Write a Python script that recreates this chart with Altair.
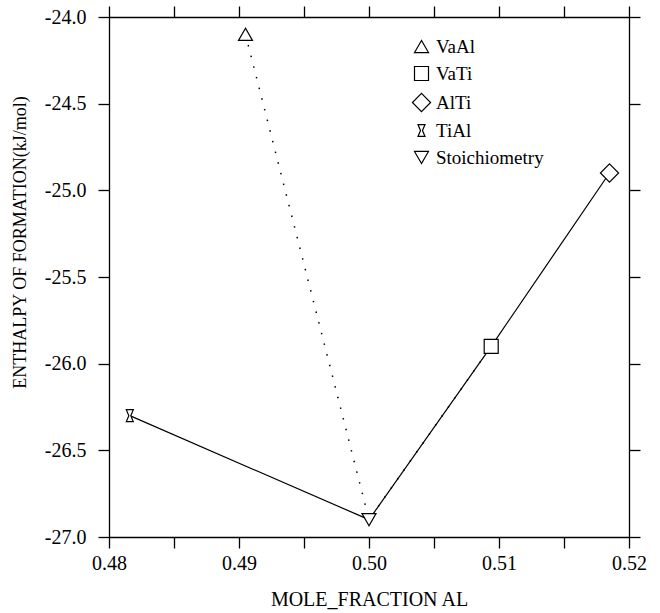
import altair as alt
import pandas as pd

# ---- data ----
names = ["VaAl", "VaTi", "AlTi", "TiAl", "Stoichiometry"]
mole_fraction = [0.4905, 0.5094, 0.5185, 0.4816, 0.5000]
enthalpy = [-24.1, -25.9, -24.9, -26.3, -26.9]

solid_path = ["TiAl", "Stoichiometry", "VaTi", "AlTi"]
dotted_path = ["VaAl", "Stoichiometry", "VaTi"]

x_ticks = [0.48, 0.485, 0.49, 0.495, 0.50, 0.505, 0.51, 0.515, 0.52]
y_ticks = [-27.0, -26.5, -26.0, -25.5, -25.0, -24.5, -24.0]

# ---- tables ----
pts = pd.DataFrame({"name": names, "x": mole_fraction, "y": enthalpy})
lookup = {n: (xv, yv) for n, xv, yv in zip(names, mole_fraction, enthalpy)}
solid = pd.DataFrame({"order": list(range(len(solid_path))),
                      "x": [lookup[n][0] for n in solid_path],
                      "y": [lookup[n][1] for n in solid_path]})
dotted = pd.DataFrame({"order": list(range(len(dotted_path))),
                       "x": [lookup[n][0] for n in dotted_path],
                       "y": [lookup[n][1] for n in dotted_path]})

FONT = "Liberation Serif"
hourglass = "M-0.5,-0.85L0.5,-0.85L0.14,0L0.5,0.85L-0.5,0.85L-0.14,0Z"
diamond = "M0,-1.3L1.3,0L0,1.3L-1.3,0Z"
shapes = ["triangle-up", "square", diamond, hourglass, "triangle-down"]

xs = alt.Scale(domain=[0.48, 0.52], zero=False, nice=False)
ys = alt.Scale(domain=[-27.0, -24.0], zero=False, nice=False)

x_label_expr = "round(datum.value*1000) % 10 == 0 ? format(datum.value, '.2f') : ''"
y_label_expr = "replace(format(datum.value, '.1f'), '\u2212', '-')"

axis_style = dict(
    grid=False, domainColor="black", domainWidth=1.3, tickColor="black",
    tickWidth=1.3, tickSize=11, labelFont=FONT, labelFontSize=20,
    labelColor="black", titleFont=FONT, titleFontSize=20,
    titleColor="black", titleFontWeight="normal", labelFlush=False,
    labelOverlap=False,
)

dot_line = alt.Chart(dotted).mark_line(
    color="black", strokeWidth=1.5, strokeDash=[1.5, 9.5]
).encode(
    x=alt.X("x:Q", scale=xs, axis=None),
    y=alt.Y("y:Q", scale=ys, axis=None),
    order="order:Q",
)

solid_line = alt.Chart(solid).mark_line(color="black", strokeWidth=1.2).encode(
    x=alt.X("x:Q", scale=xs, axis=None),
    y=alt.Y("y:Q", scale=ys, axis=None),
    order="order:Q",
)

# white backing so the lines do not show through the open symbols
backing = alt.Chart(pts).mark_point(filled=True, color="white", opacity=1, size=196).encode(
    x=alt.X("x:Q", scale=xs, axis=None),
    y=alt.Y("y:Q", scale=ys, axis=None),
    shape=alt.Shape("name:N", scale=alt.Scale(domain=names, range=shapes), legend=None),
)

points = alt.Chart(pts).mark_point(
    filled=False, color="black", strokeWidth=1.2, opacity=1, size=196
).encode(
    x=alt.X("x:Q", scale=xs, title="MOLE_FRACTION AL",
            axis=alt.Axis(orient="bottom", values=x_ticks, labelExpr=x_label_expr,
                          labelPadding=5,
                          titleX=260, titleY=68, titleBaseline="alphabetic",
                          titleAnchor="middle", **axis_style)),
    y=alt.Y("y:Q", scale=ys, title="ENTHALPY OF FORMATION(kJ/mol)",
            axis=alt.Axis(orient="left", values=y_ticks, labelExpr=y_label_expr,
                          labelPadding=12,
                          titleX=-89, titleY=225,
                          titleAnchor="middle", titleBaseline="middle",
                          **{**axis_style, "titleFontSize": 18})),
    shape=alt.Shape("name:N", scale=alt.Scale(domain=names, range=shapes),
                    legend=alt.Legend(title=None, orient="none", legendX=303, legendY=20,
                                      labelFont=FONT, labelFontSize=19, labelColor="black",
                                      symbolSize=196, symbolStrokeWidth=1.2,
                                      rowPadding=7, labelOffset=5)),
)

frame = alt.Chart(pts).mark_point(size=0, strokeWidth=0).encode(
    x=alt.X("x:Q", scale=xs, title=None,
            axis=alt.Axis(orient="top", values=x_ticks, labels=False, **axis_style)),
    y=alt.Y("y:Q", scale=ys, title=None,
            axis=alt.Axis(orient="right", values=y_ticks, labels=False, **axis_style)),
)

chart = alt.layer(dot_line, solid_line, backing, points, frame).resolve_axis(
    x="independent", y="independent"
).resolve_scale(shape="independent").resolve_legend(shape="independent").properties(
    width=520, height=520,
    background="white",
    autosize=alt.AutoSizeParams(type="none"),
    padding={"left": 109, "top": 17, "right": 31, "bottom": 76},
).configure(font=FONT).configure_view(stroke=None)

chart.save("out.html", embed_options={"renderer": "svg", "actions": False})
